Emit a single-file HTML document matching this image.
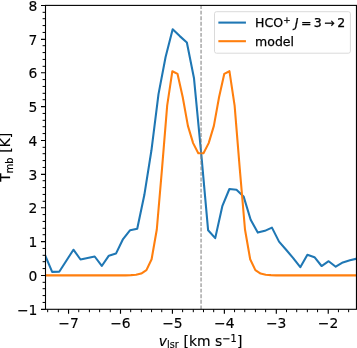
<!DOCTYPE html>
<html lang="en"><head><meta charset="utf-8"><title>HCO+ J=3-2 spectrum and model</title><style>html,body{margin:0;padding:0;background:#fff;overflow:hidden}svg{display:block}</style></head><body>
<svg width="357" height="348" viewBox="0 0 357 348" font-family="'DejaVu Sans', 'Liberation Sans', sans-serif">
<rect width="357" height="348" fill="#fff"/>
<clipPath id="ax"><rect x="45.5" y="5.4" width="310.95" height="303.9"/></clipPath>
<g stroke="#000" fill="none">
<path d="M68.55 309.3v4.5M120.49 309.3v4.5M172.43 309.3v4.5M224.37 309.3v4.5M276.31 309.3v4.5M328.25 309.3v4.5M45.5 309.32h-4.5M45.5 275.45h-4.5M45.5 241.57h-4.5M45.5 207.7h-4.5M45.5 174.32h-4.5M45.5 140.45h-4.5M45.5 106.57h-4.5M45.5 72.7h-4.5M45.5 39.32h-4.5M45.5 5.45h-4.5" stroke-width="1.15"/>
<path d="M47.67 309.3v2.9M58.36 309.3v2.9M78.74 309.3v2.9M89.43 309.3v2.9M99.61 309.3v2.9M110.3 309.3v2.9M130.68 309.3v2.9M141.37 309.3v2.9M151.55 309.3v2.9M161.74 309.3v2.9M182.62 309.3v2.9M193.31 309.3v2.9M203.49 309.3v2.9M213.68 309.3v2.9M234.56 309.3v2.9M244.75 309.3v2.9M255.43 309.3v2.9M265.62 309.3v2.9M286.5 309.3v2.9M296.69 309.3v2.9M307.37 309.3v2.9M317.56 309.3v2.9M338.44 309.3v2.9M348.63 309.3v2.9M45.5 302.45h-2.9M45.5 295.57h-2.9M45.5 288.7h-2.9M45.5 282.32h-2.9M45.5 268.57h-2.9M45.5 261.7h-2.9M45.5 255.32h-2.9M45.5 248.45h-2.9M45.5 234.7h-2.9M45.5 228.32h-2.9M45.5 221.45h-2.9M45.5 214.57h-2.9M45.5 201.32h-2.9M45.5 194.45h-2.9M45.5 187.57h-2.9M45.5 180.7h-2.9M45.5 167.45h-2.9M45.5 160.57h-2.9M45.5 153.7h-2.9M45.5 147.32h-2.9M45.5 133.57h-2.9M45.5 126.7h-2.9M45.5 120.32h-2.9M45.5 113.45h-2.9M45.5 99.7h-2.9M45.5 93.32h-2.9M45.5 86.45h-2.9M45.5 79.57h-2.9M45.5 66.32h-2.9M45.5 59.45h-2.9M45.5 52.57h-2.9M45.5 45.7h-2.9M45.5 32.45h-2.9M45.5 25.57h-2.9M45.5 18.7h-2.9M45.5 12.32h-2.9" stroke-width="1.0"/>
</g>
<g clip-path="url(#ax)" fill="none" stroke-width="2.08" stroke-linejoin="round">
<polyline points="45.06,255.15 52.15,271.89 59.24,271.69 66.33,260.72 73.42,249.72 80.51,259.5 87.6,258.05 94.69,256.5 101.78,265.98 108.87,255.69 115.96,253.6 123.05,239.08 130.14,230.21 137.23,228.79 144.32,195.07 151.41,150.52 158.5,94.16 165.59,57.04 172.68,29.36 179.77,36.11 186.86,42.52 193.95,77.96 201.04,151.54 208.13,230.31 215.22,238.11 222.31,206.21 229.4,189 236.49,189.81 243.58,196.42 250.67,219.71 257.76,232.6 264.85,230.85 271.94,227.61 279.03,241.65 286.12,249.75 293.21,258.09 300.3,267.2 307.39,254.81 314.48,257.21 321.57,266.02 328.66,261.22 335.75,266.73 342.84,262.41 349.93,260.31 357.02,258.63 364.11,256.84" stroke="#1f77b4"/>
<polyline points="37.47,275.4 42.66,275.4 47.85,275.4 53.04,275.4 58.22,275.4 63.41,275.4 68.6,275.4 73.79,275.4 78.98,275.4 84.16,275.4 89.35,275.4 94.54,275.4 99.73,275.4 104.92,275.4 110.1,275.4 115.29,275.4 120.48,275.4 125.67,275.4 130.86,275.13 136.04,274.72 141.23,273.54 146.42,270.17 151.61,259.2 156.8,229.5 161.98,169.09 167.17,105.64 172.36,71.21 177.55,73.91 182.74,97.2 187.92,125.89 193.11,143.1 198.3,153.22 203.49,153.22 208.68,143.1 213.86,125.89 219.05,97.2 224.24,73.91 229.43,71.21 234.62,105.64 239.8,169.09 244.99,229.5 250.18,259.2 255.37,270.17 260.56,273.54 265.74,274.72 270.93,275.13 276.12,275.4 281.31,275.4 286.5,275.4 291.68,275.4 296.87,275.4 302.06,275.4 307.25,275.4 312.44,275.4 317.62,275.4 322.81,275.4 328,275.4 333.19,275.4 338.38,275.4 343.56,275.4 348.75,275.4 353.94,275.4 359.13,275.4 364.32,275.4" stroke="#ff7f0e"/>
<path d="M201.05 309.3V5.4" stroke="#808080" stroke-width="1.04" stroke-dasharray="3.88 1.68"/>
</g>
<rect x="45.5" y="5.4" width="310.95" height="303.9" fill="none" stroke="#000" stroke-width="1.1"/>
<g font-size="13.89" fill="#000" stroke="#000" stroke-width="0.15">
<g text-anchor="middle">
<text x="68.6" y="327.9">−7</text>
<text x="120.48" y="327.9">−6</text>
<text x="172.36" y="327.9">−5</text>
<text x="224.24" y="327.9">−4</text>
<text x="276.12" y="327.9">−3</text>
<text x="328" y="327.9">−2</text>
</g><g text-anchor="end">
<text x="37.4" y="314.7">−1</text>
<text x="37.4" y="280.95">0</text>
<text x="37.4" y="247.2">1</text>
<text x="37.4" y="213.45">2</text>
<text x="37.4" y="179.7">3</text>
<text x="37.4" y="145.95">4</text>
<text x="37.4" y="112.2">5</text>
<text x="37.4" y="78.45">6</text>
<text x="37.4" y="44.7">7</text>
<text x="37.4" y="10.95">8</text>
</g>
<text x="158.8" y="345.7"><tspan font-style="oblique">v</tspan><tspan x="167.02" y="347.98" font-size="9.72">lsr</tspan><tspan x="179.16" y="345.7"> [km s</tspan><tspan x="222.35" y="341.58" font-size="9.72">−1</tspan><tspan x="237.06" y="345.7">]</tspan></text>
<g transform="translate(10.3 181.8) rotate(-90)"><text x="0" y="0">T<tspan x="8.62" y="2.28" font-size="9.72">mb</tspan><tspan x="24.64" y="0"> [K]</tspan></text></g>
</g>
<rect x="214.5" y="11.7" width="135.9" height="41.5" rx="2.0" fill="#fff" fill-opacity="0.8" stroke="#d6d6d6" stroke-width="0.9"/>
<path d="M219.4 22.6H244.9" stroke="#1f77b4" stroke-width="2.08" stroke-linecap="square"/>
<path d="M219.4 41.2H244.9" stroke="#ff7f0e" stroke-width="2.08" stroke-linecap="square"/>
<g font-size="12.5" fill="#000" stroke="#000" stroke-width="0.25">
<text x="255.1" y="26.9">HCO<tspan x="283.19" y="22.91" font-size="8.75">+</tspan><tspan x="290.86" y="26.9"> </tspan><tspan x="294.83" font-style="oblique">J</tspan><tspan x="300.95">=</tspan><tspan x="313.86">3</tspan><tspan x="324.25">→</tspan><tspan x="337.16">2</tspan></text>
<text x="255.1" y="46.1">model</text>
</g>
</svg>
</body></html>
